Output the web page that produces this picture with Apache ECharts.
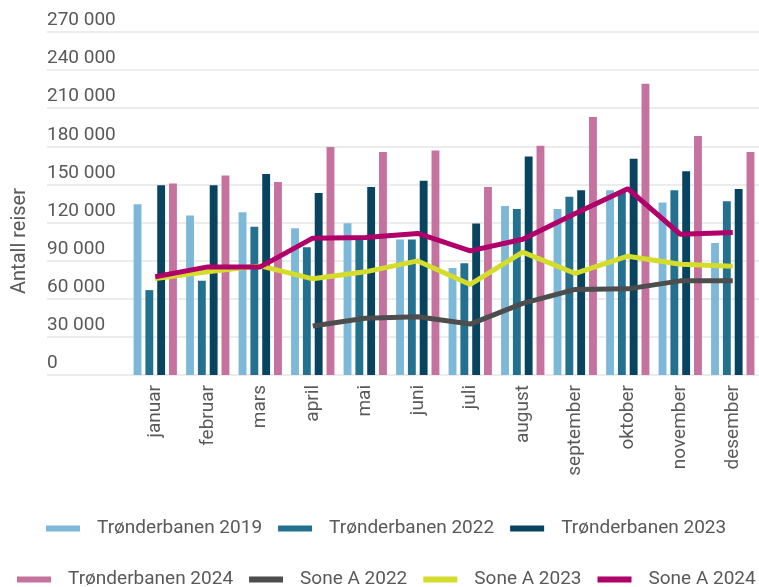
<!DOCTYPE html>
<html>
<head>
<meta charset="utf-8">
<script src="https://cdn.jsdelivr.net/npm/echarts@6/dist/echarts.min.js"></script>
<style>
  html, body { margin: 0; padding: 0; background: #fff; }
  #chart { width: 759px; height: 587px; }
</style>
</head>
<body>
<div id="chart"></div>
<script>
// months on the category axis
const months = ['januar', 'februar', 'mars', 'april', 'mai', 'juni', 'juli', 'august', 'september', 'oktober', 'november', 'desember'];

// Trønderbanen bars
const tb2019 = [134400, 125500, 128100, 115500, 119500, 106600, 84300, 133100, 130700, 145400, 135700, 104000];
const tb2022 = [66800, 74100, 116600, 100600, 106600, 106600, 88000, 130700, 140400, 144100, 145400, 136800];
const tb2023 = [149300, 149300, 158200, 143300, 148000, 153000, 119200, 171900, 145400, 170300, 160300, 146400];
const tb2024 = [150700, 157000, 151900, 179400, 175500, 176800, 148000, 180500, 203000, 229300, 188100, 175500];

// Sone A lines
const soneA2022 = [null, null, null, 38500, 44600, 45800, 40100, 56400, 67400, 67800, 74100, 74100];
const soneA2023 = [76000, 81200, 85900, 75700, 81200, 89800, 71300, 96700, 79900, 93500, 87200, 85700];
const soneA2024 = [77300, 85100, 85100, 107700, 108200, 111400, 97700, 106900, 127100, 146700, 110800, 112100];

const textColor = '#595959';
const font = 'Roboto';

function fmt(v) {
  return String(v).replace(/\B(?=(\d{3})+(?!\d))/g, ' ');
}

const legendBase = {
  icon: 'rect',
  padding: 0,
  width: 752,
  itemWidth: 34,
  itemHeight: 6,
  itemGap: 16,
  textStyle: { fontSize: 19, color: textColor, fontFamily: font, padding: [0, 0, 0, 12] }
};

const chart = echarts.init(document.getElementById('chart'));

chart.setOption({
  animation: false,
  textStyle: { fontFamily: font },
  grid: [
    // bars and lines
    { left: 129, right: -9, top: 32, bottom: 212 },
    // gridlines + y labels, reaching further left
    { left: 47, right: 0, top: 32, bottom: 212 }
  ],
  legend: [
    Object.assign({}, legendBase, {
      top: 519,
      left: 46,
      data: ['Trønderbanen 2019', 'Trønderbanen 2022', 'Trønderbanen 2023']
    }),
    Object.assign({}, legendBase, {
      top: 570,
      left: 17,
      data: ['Trønderbanen 2024', 'Sone A 2022', 'Sone A 2023', 'Sone A 2024']
    })
  ],
  xAxis: [
    {
      gridIndex: 0,
      type: 'category',
      data: months,
      axisLine: { show: false },
      axisTick: { show: false },
      axisLabel: {
        interval: 0,
        rotate: 90,
        margin: 10,
        fontSize: 19,
        color: textColor,
        fontFamily: font
      }
    },
    { gridIndex: 1, type: 'value', show: false }
  ],
  yAxis: [
    { gridIndex: 0, type: 'value', min: 0, max: 270000, interval: 30000, show: false },
    {
      gridIndex: 1,
      type: 'value',
      min: 0,
      max: 270000,
      interval: 30000,
      axisLine: { show: false },
      axisTick: { show: false },
      splitLine: { lineStyle: { color: '#E6E6E6', width: 1.5 } },
      axisLabel: {
        inside: true,
        margin: 0,
        align: 'left',
        verticalAlign: 'bottom',
        padding: [0, 0, 2, 0],
        fontSize: 19,
        color: textColor,
        fontFamily: font,
        formatter: fmt
      }
    }
  ],
  graphic: [
    {
      type: 'text',
      x: 20,
      y: 241,
      rotation: Math.PI / 2,
      style: {
        text: 'Antall reiser',
        fontSize: 20,
        fontFamily: font,
        fill: textColor,
        align: 'center',
        verticalAlign: 'middle'
      }
    }
  ],
  series: [
    { name: 'Trønderbanen 2019', type: 'bar', data: tb2019, itemStyle: { color: '#7EB8D8' }, barGap: '50%', barCategoryGap: '17.5%' },
    { name: 'Trønderbanen 2022', type: 'bar', data: tb2022, itemStyle: { color: '#23708F' } },
    { name: 'Trønderbanen 2023', type: 'bar', data: tb2023, itemStyle: { color: '#08445F' } },
    { name: 'Trønderbanen 2024', type: 'bar', data: tb2024, itemStyle: { color: '#C5729F' } },
    { name: 'Sone A 2022', type: 'line', data: soneA2022, showSymbol: false, symbol: 'none', lineStyle: { color: '#4D4D4D', width: 5 }, itemStyle: { color: '#4D4D4D' } },
    { name: 'Sone A 2023', type: 'line', data: soneA2023, showSymbol: false, symbol: 'none', lineStyle: { color: '#D4DC2C', width: 5 }, itemStyle: { color: '#D4DC2C' } },
    { name: 'Sone A 2024', type: 'line', data: soneA2024, showSymbol: false, symbol: 'none', lineStyle: { color: '#B0006A', width: 5 }, itemStyle: { color: '#B0006A' } }
  ]
});
</script>
</body>
</html>
